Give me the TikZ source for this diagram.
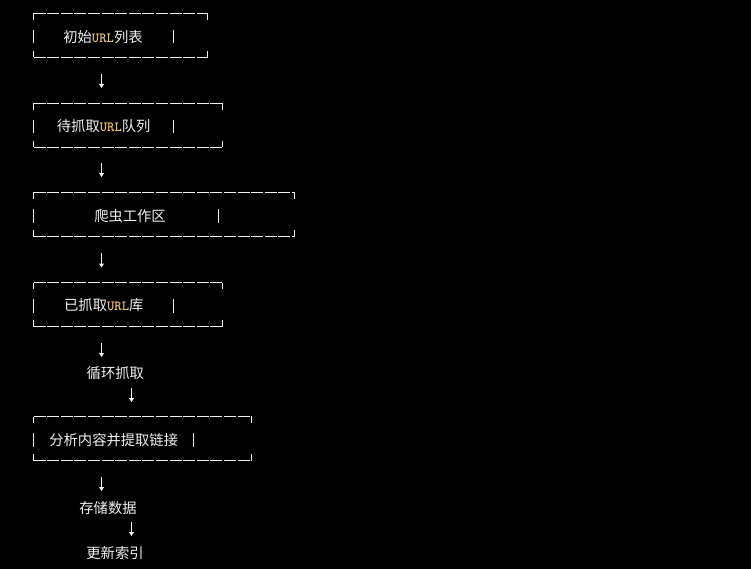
\documentclass[tikz,border=0pt]{standalone}
\usepackage{fontspec}
\setmainfont{Noto Sans CJK SC}
\usetikzlibrary{arrows.meta}
\definecolor{urlc}{RGB}{231,190,118}
\definecolor{fg}{RGB}{240,240,240}
\tikzset{
  edge/.style={draw=fg, line width=1pt},
  dashedge/.style={edge, dash pattern=on 12pt off 1.6pt},
  lbl/.style={text=fg, font=\fontsize{14.3}{15}\selectfont, inner sep=0pt, anchor=center},
  flow/.style={edge, -{Triangle[width=5pt,length=4pt]}},
}
\newcommand\URL{{\ttfamily\bfseries\fontsize{14}{15}\selectfont\color{urlc}URL}}
% #1 left, #2 right, #3 top, #4 bottom, #5 inner bar x
\newcommand\asciibox[5]{%
  \draw[dashedge] (#1,#3) -- (#2,#3);
  \draw[dashedge] (#1,#4) -- (#2,#4);
  \draw[edge] (#1,#3) -- (#1,#3+6.5);
  \draw[edge] (#2,#3) -- (#2,#3+6.5);
  \draw[edge] (#1,#4-6.5) -- (#1,#4);
  \draw[edge] (#2,#4-6.5) -- (#2,#4);
  \draw[edge] (#1,#3+16.5) -- (#1,#3+30);
  \draw[edge] (#5,#3+16.5) -- (#5,#3+30);
}
\begin{document}
\begin{tikzpicture}[x=1pt,y=-1pt]
  \fill[black] (0,0) rectangle (751,569);
  \useasboundingbox (0,0) rectangle (751,569);

  % boxes
  \asciibox{33.5}{207.5}{13.5}{57.5}{173.5}
  \asciibox{33.5}{222.5}{103.5}{147.5}{173.5}
  \asciibox{33.5}{294.5}{192.5}{236.5}{218.5}
  \asciibox{33.5}{222.5}{282.5}{326.5}{173.5}
  \asciibox{33.5}{251.5}{416.5}{460.5}{193.5}

  % labels
  \node[lbl] (n1) at (103,37) {初始\URL 列表};
  \node[lbl] (n2) at (103.7,126.5) {待抓取\URL 队列};
  \node[lbl] (n3) at (130,216) {爬虫工作区};
  \node[lbl] (n4) at (103.8,305.5) {已抓取\URL 库};
  \node[lbl] (n5) at (115.3,372.7) {循环抓取};
  \node[lbl] (n6) at (113.7,440) {分析内容并提取链接};
  \node[lbl] (n7) at (108,507.7) {存储数据};
  \node[lbl] (n8) at (115,552.7) {更新索引};

  % arrow endpoints
  \coordinate (a1s) at (101.5,74);  \coordinate (a1e) at (101.5,88);
  \coordinate (a2s) at (101.5,163); \coordinate (a2e) at (101.5,177);
  \coordinate (a3s) at (101.5,253); \coordinate (a3e) at (101.5,267.5);
  \coordinate (a4s) at (101.5,343); \coordinate (a4e) at (101.5,357);
  \coordinate (a5s) at (131.5,388); \coordinate (a5e) at (131.5,402);
  \coordinate (a6s) at (101.5,477); \coordinate (a6e) at (101.5,491);
  \coordinate (a7s) at (131.5,522); \coordinate (a7e) at (131.5,536);
  \foreach \i in {1,...,7} \draw[flow] (a\i s) -- (a\i e);
\end{tikzpicture}
\end{document}
